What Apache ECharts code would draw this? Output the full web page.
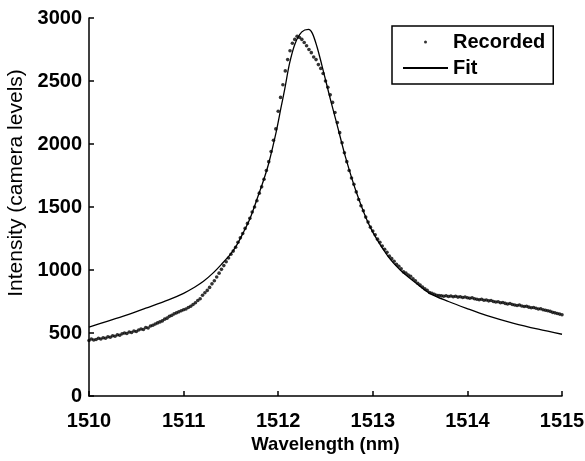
<!DOCTYPE html>
<html>
<head>
<meta charset="utf-8">
<script src="https://cdn.jsdelivr.net/npm/echarts/dist/echarts.min.js"></script>
<style>
  html, body { margin: 0; padding: 0; background: #fff; }
  #main { width: 585px; height: 461px; }
</style>
</head>
<body>
<div id="main"></div>
<script>
// recorded spectrum, sampled every 0.025 nm from 1510 nm
const recStart = 1510;
const recStep = 0.025;
const recorded = [
  440, 452, 445, 448, 458, 452, 462, 458,
  470, 466, 478, 474, 486, 482, 494, 500,
  496, 508, 504, 516, 512, 524, 532, 528,
  544, 540, 556, 562, 572, 580, 588, 596,
  610, 618, 632, 640, 652, 660, 668, 676,
  684, 690, 702, 712, 726, 740, 758, 772,
  800, 820, 838, 862, 890, 915, 945, 975,
  1005, 1035, 1065, 1095, 1125, 1150, 1180, 1220,
  1255, 1290, 1330, 1370, 1410, 1460, 1500, 1550,
  1610, 1660, 1720, 1790, 1860, 1940, 2030, 2120,
  2260, 2370, 2470, 2580, 2670, 2740, 2800, 2830,
  2855, 2845, 2830, 2805, 2780, 2750, 2725, 2690,
  2670, 2630, 2600, 2560, 2500, 2450, 2390, 2330,
  2250, 2170, 2090, 2010, 1930, 1860, 1790, 1730,
  1680, 1620, 1560, 1510, 1470, 1420, 1380, 1340,
  1310, 1280, 1245, 1220, 1190, 1165, 1140, 1110,
  1090, 1070, 1045, 1030, 1010, 985, 975, 960,
  950, 930, 915, 895, 880, 865, 850, 838,
  822, 815, 808, 800, 798, 795, 792, 796,
  790, 794, 788, 792, 785, 788, 782, 786,
  780, 776, 780, 772, 768, 764, 768, 760,
  762, 755, 758, 750, 746, 748, 740, 742,
  735, 730, 734, 726, 722, 718, 722, 714,
  710, 712, 705, 700, 702, 696, 690, 692,
  684, 680, 676, 672, 664, 660, 655, 650,
  645
];

// fitted curve
const fitX = [1510.0, 1510.2, 1510.42, 1510.6, 1510.84, 1511.0, 1511.12, 1511.21, 1511.31, 1511.4,
  1511.5, 1511.56, 1511.63, 1511.7, 1511.77, 1511.84, 1511.9, 1511.98, 1512.03, 1512.07,
  1512.12, 1512.18, 1512.25, 1512.32, 1512.36, 1512.41, 1512.46, 1512.51, 1512.56, 1512.62,
  1512.71, 1512.83, 1512.97, 1513.15, 1513.29, 1513.46, 1513.6, 1513.8, 1513.99, 1514.2,
  1514.49, 1514.75, 1515.0];
const fitY = [546, 595, 648, 697, 763, 815, 865, 910, 975, 1045,
  1130, 1195, 1295, 1405, 1550, 1700, 1847, 2100, 2290, 2440,
  2640, 2800, 2890, 2910, 2880, 2772, 2630, 2480, 2330, 2160,
  1900, 1609, 1344, 1120, 1000, 894, 815, 750, 696, 640,
  577, 530, 490];

const xTicks = [1510, 1511, 1512, 1513, 1514, 1515];
const yTicks = [0, 500, 1000, 1500, 2000, 2500, 3000];

const recData = recorded.map((v, i) => [recStart + i * recStep, v]);
const fitData = fitX.map((x, i) => [x, fitY[i]]);

const font = '"Liberation Sans", Arial, sans-serif';
const chart = echarts.init(document.getElementById('main'));
chart.setOption({
  animation: false,
  backgroundColor: '#fff',
  textStyle: { fontFamily: font, color: '#000' },
  grid: { left: 89, right: 23, top: 18, bottom: 65, containLabel: false, outerBoundsMode: 'none' },
  legend: {
    left: 392,
    top: 26,
    orient: 'vertical',
    data: [{ name: 'Recorded' }, { name: 'Fit', itemStyle: { opacity: 0 } }],
    itemWidth: 45,
    itemHeight: 3,
    itemGap: 6,
    padding: [6, 8, 6, 10],
    borderColor: '#000',
    borderWidth: 1.5,
    backgroundColor: '#fff',
    selectedMode: false,
    textStyle: { fontFamily: font, fontSize: 20, fontWeight: 'bold', color: '#000' }
  },
  xAxis: {
    type: 'value',
    min: xTicks[0],
    max: xTicks[xTicks.length - 1],
    interval: 1,
    name: 'Wavelength (nm)',
    nameLocation: 'middle',
    nameGap: 39,
    nameTextStyle: { fontFamily: font, fontSize: 18.5, fontWeight: 'bold', color: '#000' },
    splitLine: { show: false },
    axisLine: { lineStyle: { color: '#000', width: 1.5 } },
    axisTick: { inside: true, length: 5, lineStyle: { color: '#000', width: 1.5 } },
    axisLabel: {
      fontFamily: font, fontSize: 20, fontWeight: 'bold', color: '#000', margin: 15,
      formatter: v => String(v)
    }
  },
  yAxis: {
    type: 'value',
    min: yTicks[0],
    max: yTicks[yTicks.length - 1],
    interval: 500,
    name: 'Intensity (camera levels)',
    nameLocation: 'middle',
    nameGap: 62,
    nameTextStyle: { fontFamily: font, fontSize: 21, color: '#000', padding: [0, 0, 0, 48] },
    splitLine: { show: false },
    axisLine: { show: true, lineStyle: { color: '#000', width: 1.5 } },
    axisTick: { show: true, inside: true, length: 5, lineStyle: { color: '#000', width: 1.5 } },
    axisLabel: {
      fontFamily: font, fontSize: 20, fontWeight: 'bold', color: '#000', margin: 7,
      formatter: v => String(v)
    }
  },
  series: [
    {
      name: 'Recorded',
      type: 'scatter',
      data: recData,
      symbol: 'circle',
      symbolSize: 3.6,
      itemStyle: { color: '#000' }
    },
    {
      name: 'Fit',
      type: 'line',
      data: fitData,
      smooth: 0.3,
      showSymbol: false,
      symbol: 'none',
      lineStyle: { color: '#000', width: 1.3 },
      itemStyle: { color: '#000' }
    }
  ]
});
</script>
</body>
</html>
